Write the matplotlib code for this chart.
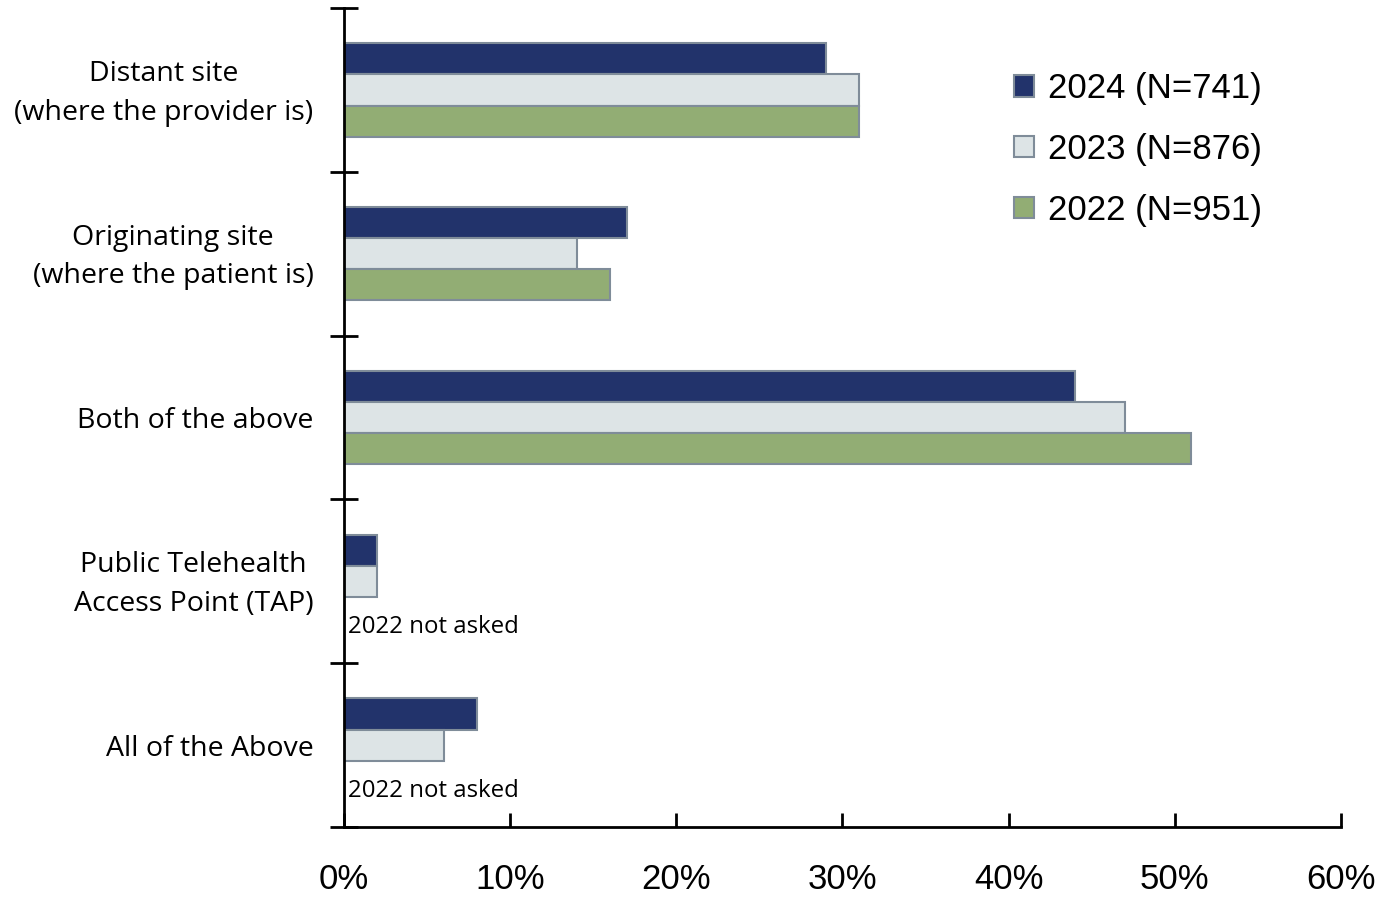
import numpy as np
import matplotlib
matplotlib.use("Agg")
import matplotlib.pyplot as plt
from matplotlib.patches import Patch

categories = ["Distant site\n(where the provider is)",
              "Originating site\n(where the patient is)",
              "Both of the above",
              "Public Telehealth\nAccess Point (TAP)",
              "All of the Above"]
series = ["2024 (N=741)", "2023 (N=876)", "2022 (N=951)"]
v2024 = [29, 17, 44, 2, 8]
v2023 = [31, 14, 47, 2, 6]
v2022 = [31, 16, 51, None, None]
note = "2022 not asked"

colors = ["#22336b", "#dde4e6", "#92ad74"]
edge = "#7f8c99"

fig = plt.figure(figsize=(13.89, 8.97), dpi=100)
ax = fig.add_axes([0.2477, 0.078, 0.7177, 0.913])

y = np.arange(len(categories))
h = 0.19
for k, (vals, col) in enumerate(zip([v2024, v2023, v2022], colors)):
    off = (k - 1) * h
    for i, v in enumerate(vals):
        if v is None:
            ax.text(0.25, i + 0.28, note, ha="left", va="center",
                    fontsize=17.3, family="Open Sans")
            continue
        ax.barh(i + off, v, height=h, color=col, edgecolor=edge, linewidth=1.5, zorder=2)

ax.set_xlim(0, 60)
ax.set_ylim(len(categories) - 0.5, -0.5)
ax.set_xticks(np.arange(0, 61, 10))
ax.set_xticklabels([f"{t}%" for t in range(0, 61, 10)], family="Liberation Sans", fontsize=25)
ax.tick_params(axis="x", direction="in", length=10, width=2, pad=26)

ax.set_yticks(np.arange(len(categories) + 1) - 0.5)
ax.set_yticklabels([])
ax.tick_params(axis="y", which="major", direction="inout", length=20, width=2)
# two-line labels sit a touch higher (descender of the last line)
label_pos = [i - 0.035 if "\n" in c else i for i, c in enumerate(categories)]
ax.set_yticks(label_pos, minor=True)
ax.set_yticklabels(categories, minor=True, family="Open Sans", fontsize=20.5)
ax.tick_params(axis="y", which="minor", length=0, pad=22)
for lab in ax.get_yticklabels(minor=True):
    lab.set_multialignment("center")
    lab.set_linespacing(1.52)

for s in ["top", "right"]:
    ax.spines[s].set_visible(False)
for s in ["left", "bottom"]:
    ax.spines[s].set_linewidth(2)

handles = [Patch(facecolor=c, edgecolor=edge, linewidth=1.5) for c in colors]
ax.legend(handles, series, loc="upper right", bbox_to_anchor=(0.952, 0.96), frameon=False,
          prop={"family": "Liberation Sans", "size": 25}, handlelength=0.58, handleheight=0.58,
          handletextpad=0.4, labelspacing=0.8)

fig.savefig("out.png", dpi=100)
